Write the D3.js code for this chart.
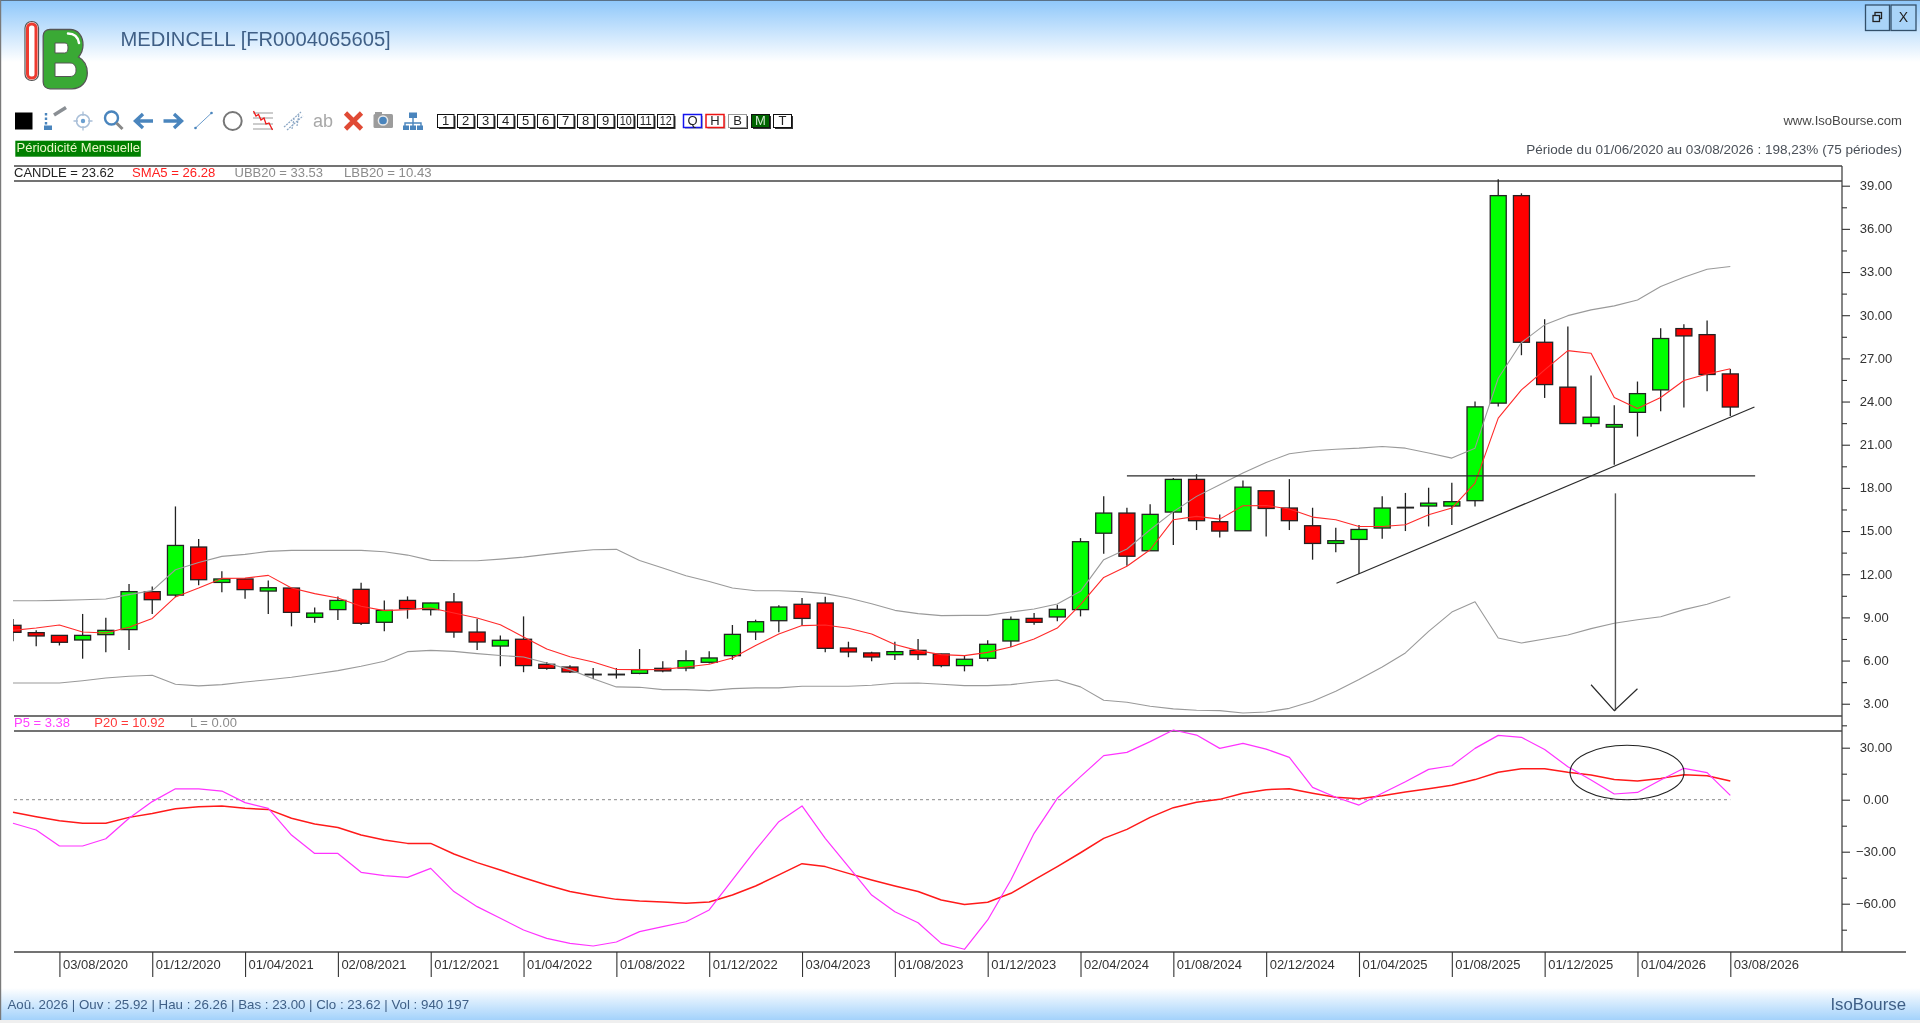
<!DOCTYPE html>
<html>
<head>
<meta charset="utf-8">
<title>MEDINCELL</title>
<script src="https://cdn.jsdelivr.net/npm/d3@7"></script>
<style>
    html, body { margin: 0; padding: 0; background: #fff; overflow: hidden; }
    svg { display: block; filter: blur(0.4px); }
    text { font-family: "Liberation Sans", Arial, sans-serif; }
</style>
</head>
<body>
<div id="chart"></div>
<script>
// monthly candles, 01/06/2020 -> 03/08/2026
const opens = [8.45,7.94,7.75,7.43,7.80,8.15,10.79,10.55,13.89,11.43,11.67,10.83,11.04,9.00,9.54,10.95,8.66,10.18,9.54,10.07,
    7.98,7.01,7.48,5.74,5.55,5.05,5.05,5.11,5.46,5.48,5.88,6.34,7.99,8.77,9.91,10.00,6.87,6.53,6.41,6.71,
    6.46,5.65,6.16,7.36,8.93,9.03,9.54,14.85,16.25,13.63,16.32,18.59,15.65,15.02,17.80,16.60,15.37,14.14,14.42,15.21,
    16.65,16.74,16.74,17.11,23.89,38.31,28.12,25.00,22.47,22.22,23.25,24.81,29.07,28.65,25.92];
const highs = [8.89,8.10,7.75,9.24,8.98,11.32,11.15,16.71,14.44,12.20,11.73,11.57,11.04,9.68,10.46,11.41,10.18,10.46,10.02,10.69,
    8.91,7.75,9.07,5.90,5.67,5.48,5.48,6.80,5.95,6.71,6.64,8.47,8.84,9.84,10.35,10.44,7.31,6.62,7.31,7.50,
    6.48,6.32,7.41,9.07,9.30,9.88,14.51,17.41,16.62,16.87,18.68,18.95,16.15,18.52,17.80,18.61,16.62,15.23,15.42,17.41,
    17.65,18.01,18.36,24.00,39.44,38.47,29.72,29.21,25.81,23.75,25.39,29.09,29.37,29.63,26.26];
const lows = [7.34,6.99,7.05,6.13,6.57,6.74,9.24,10.41,11.23,10.74,10.30,9.24,8.38,8.63,8.82,8.47,8.03,8.91,9.14,7.59,
    6.74,5.60,5.19,5.37,5.14,4.72,4.75,5.05,5.18,5.25,5.79,6.05,7.43,7.96,8.42,6.57,6.23,5.95,6.04,6.04,
    5.53,5.25,5.95,6.94,8.49,8.73,9.07,13.43,12.59,13.63,14.03,15.07,14.55,15.02,14.63,15.07,13.01,13.52,12.02,14.47,
    15.00,15.32,15.42,16.71,23.65,27.22,24.25,22.47,22.25,19.60,21.57,23.33,23.59,24.72,23.00];
const closes = [7.96,7.71,7.27,7.75,8.10,10.79,10.23,14.00,11.62,11.67,10.93,11.06,9.35,9.30,10.18,8.59,9.49,9.60,10.00,7.98,
    7.29,7.41,5.65,5.46,5.21,5.05,5.05,5.37,5.28,5.99,6.18,7.82,8.70,9.72,8.93,6.85,6.60,6.25,6.62,6.41,
    5.65,6.09,7.13,8.86,8.66,9.56,14.26,16.25,13.25,16.16,18.59,15.72,15.00,18.05,16.57,15.72,14.14,14.33,15.11,16.60,
    16.65,16.94,17.04,23.63,38.31,28.12,25.18,22.47,22.91,22.40,24.55,28.38,28.56,25.88,23.62];

const sma5 = [8.10,8.26,8.47,7.98,7.92,8.31,8.93,10.42,11.04,11.71,11.73,11.92,11.04,10.65,10.35,9.77,9.47,9.54,9.65,9.30,
    8.96,8.49,7.64,6.80,6.27,5.90,5.39,5.37,5.39,5.55,5.74,6.18,7.04,7.85,8.43,8.47,8.24,7.85,7.11,6.69,
    6.41,6.34,6.57,6.94,7.50,8.26,9.88,11.78,12.55,13.70,15.79,16.02,15.83,16.76,16.78,16.53,15.97,15.79,15.32,15.32,
    15.44,16.13,16.60,18.33,22.85,24.81,26.20,27.54,27.36,24.28,23.52,24.28,25.46,25.92,26.28];
const ubb20 = [10.16,10.16,10.18,10.23,10.28,10.58,10.86,12.31,12.82,13.24,13.38,13.59,13.66,13.66,13.66,13.66,13.56,13.33,12.96,12.94,
    12.94,13.05,13.19,13.38,13.55,13.70,13.73,12.96,12.43,11.90,11.50,11.04,10.85,10.85,10.79,10.65,10.35,9.95,9.49,9.26,
    9.12,9.14,9.14,9.37,9.58,9.93,10.81,13.01,13.75,15.09,16.35,17.41,18.22,19.03,19.77,20.37,20.58,20.69,20.76,20.88,
    20.76,20.42,20.07,20.76,25.62,28.10,29.33,29.97,30.37,30.65,31.06,31.99,32.64,33.19,33.38];
const lbb20 = [4.44,4.44,4.44,4.60,4.79,4.91,4.98,4.35,4.24,4.33,4.51,4.67,4.84,5.07,5.30,5.60,5.95,6.62,6.71,6.64,
    6.48,6.35,6.25,5.83,5.37,4.74,4.17,4.14,3.98,3.98,3.91,4.05,4.10,4.10,4.21,4.21,4.21,4.28,4.42,4.44,
    4.35,4.26,4.26,4.33,4.51,4.65,4.17,3.24,3.10,2.82,2.64,2.55,2.52,2.36,2.43,2.68,3.17,3.86,4.68,5.55,
    6.53,8.03,9.37,10.09,7.57,7.22,7.50,7.78,8.22,8.59,8.84,9.05,9.54,9.91,10.43];

// oscillator panel
const p5 = [-13.6,-17.5,-26.7,-26.7,-22.5,-10.7,-1.1,6.3,6.3,5.0,-1.7,-5.0,-20.4,-31.0,-31.0,-41.9,-43.8,-44.8,-39.6,-53.0,
    -61.7,-68.4,-75.2,-80.0,-82.9,-84.4,-82.1,-76.1,-73.2,-70.4,-63.6,-46.3,-29.0,-12.7,-3.6,-22.3,-38.6,-55.0,-64.6,-71.0,
    -82.9,-86.3,-69.4,-46.3,-19.4,0.8,13.3,25.4,27.3,33.5,40.2,37.3,29.6,32.5,29.2,24.4,7.1,1.4,-3.1,3.7,
    10.4,17.5,19.6,29.6,37.1,36.0,29.0,19.0,11.4,3.3,4.2,11.4,18.1,15.6,2.5];
const p20 = [-7.3,-9.8,-12.1,-13.6,-13.6,-10.2,-7.9,-5.2,-4.0,-3.6,-5.0,-5.6,-10.7,-14.0,-16.0,-20.4,-23.2,-25.2,-25.2,-31.3,
    -36.3,-40.6,-45.0,-49.2,-53.0,-55.4,-57.5,-58.4,-59.0,-59.8,-59.0,-55.0,-49.8,-43.4,-36.9,-38.6,-42.5,-46.3,-49.8,-53.0,
    -57.9,-60.4,-59.2,-54.0,-46.3,-38.6,-30.6,-22.3,-17.1,-10.2,-4.6,-1.5,0.2,3.7,5.8,6.3,3.7,1.4,0.6,2.3,
    4.4,6.3,8.3,11.6,15.8,17.9,17.9,15.8,14.2,11.7,10.8,12.3,14.4,13.8,10.8];

const dateIndex = [2,6,10,14,18,22,26,30,34,38,42,46,50,54,58,62,66,70,74];
const dateLabels = ["03/08/2020","01/12/2020","01/04/2021","02/08/2021","01/12/2021","01/04/2022","01/08/2022","01/12/2022","03/04/2023","01/08/2023",
    "01/12/2023","02/04/2024","01/08/2024","02/12/2024","01/04/2025","01/08/2025","01/12/2025","01/04/2026","03/08/2026"];
const priceTicks = [3,6,9,12,15,18,21,24,27,30,33,36,39];
const priceMinor = [1.5,4.5,7.5,10.5,13.5,16.5,19.5,22.5,25.5,28.5,31.5,34.5,37.5];
const oscTicks = [30,0,-30,-60];
const oscMinor = [15,-15,-45,-75];

// hand drawn annotations, [period, price]
const resistance = [[48,18.83],[75.07,18.83]];
const trendline = [[57.03,11.37],[75.04,23.62]];
const arrowShaft = [[69.05,17.62],[69.05,2.52]];
const arrowHead = [[68,4.32],[69,2.52],[70,4.04]];
const ellipseCenter = [69.55,15.7];

const buttons = ["1","2","3","4","5","6","7","8","9","10","11","12"];
const periodButtons = ["Q","H","B","M","T"];

const width = 1920, height = 1023;
const panel = {left: 14, right: 1842, top: 166, legendBottom: 181, priceBottom: 716, oscTop: 731, bottom: 952};

const svg = d3.select("#chart").append("svg")
    .attr("width", width)
    .attr("height", height);

const defs = svg.append("defs");

function gradient(id, stops) {
    let g = defs.append("linearGradient").attr("id", id).attr("x1", 0).attr("x2", 0).attr("y1", 0).attr("y2", 1);
    stops.forEach(s => g.append("stop").attr("offset", s[0]).attr("stop-color", s[1]));
}
gradient("headGrad", [[0, "#8ec7fa"], [1, "#ffffff"]]);
gradient("footGrad", [[0, "#ffffff"], [1, "#a3d2fb"]]);

defs.append("clipPath").attr("id", "candleClip")
    .append("rect").attr("x", 13).attr("y", 0).attr("width", 1829).attr("height", height);

// scales
const x = d3.scaleLinear().domain([0, 74]).range([13, 1730.3]);
const y = d3.scaleLinear().domain([0, 39]).range([746.9, 185.7]);
const yOsc = d3.scaleLinear().domain([0, 30]).range([799.7, 747.7]);

/* window chrome */
svg.append("rect").attr("width", width).attr("height", height).attr("fill", "#fff");
svg.append("rect").attr("width", width).attr("height", 62).attr("fill", "url(#headGrad)");
svg.append("rect").attr("y", 988).attr("width", width).attr("height", 32).attr("fill", "url(#footGrad)");
svg.append("rect").attr("y", 1020).attr("width", width).attr("height", 3).attr("fill", "#efefef");
svg.append("rect").attr("width", width).attr("height", 1).attr("fill", "#5a7186");
svg.append("rect").attr("width", 1.2).attr("height", 1020).attr("fill", "#7a7a7a");

function label(txt, px, py, size, color, anchor) {
    return svg.append("text").attr("x", px).attr("y", py)
        .attr("font-size", size).attr("fill", color)
        .attr("text-anchor", anchor || "start")
        .attr("dominant-baseline", "middle")
        .text(txt);
}

label("MEDINCELL [FR0004065605]", 120.5, 41, 20.15, "#3f5f86");
label("www.IsoBourse.com", 1902, 122, 13.1, "#4a4a4a", "end");
label("Période du 01/06/2020 au 03/08/2026 : 198,23% (75 périodes)", 1902, 150, 13.55, "#4a5058", "end");
label("Aoû. 2026 | Ouv : 25.92 | Hau : 26.26 | Bas : 23.00 | Clo : 23.62 | Vol : 940 197", 7.5, 1005, 13.3, "#3f5f86");
label("IsoBourse", 1906, 1006, 16.8, "#3f5f86", "end");

// restore / close buttons
const winBtn = svg.append("g").attr("fill", "#a9d4f8").attr("stroke", "#33506a");
winBtn.append("rect").attr("x", 1865.5).attr("y", 5).attr("width", 24).attr("height", 25.5).attr("stroke-width", 1.3);
winBtn.append("rect").attr("x", 1891).attr("y", 5).attr("width", 25).attr("height", 25.5).attr("stroke-width", 1.3);
winBtn.append("rect").attr("x", 1875).attr("y", 12.5).attr("width", 6.5).attr("height", 6).attr("fill", "none").attr("stroke", "#222").attr("stroke-width", 1.3);
winBtn.append("rect").attr("x", 1873).attr("y", 15.5).attr("width", 6.5).attr("height", 6).attr("fill", "#a9d4f8").attr("stroke", "#222").attr("stroke-width", 1.3);
label("X", 1903.5, 18, 14, "#222", "middle");

/* logo */
const logo = svg.append("g");
logo.append("rect").attr("x", 25).attr("y", 21.5).attr("width", 13.5).attr("height", 59).attr("rx", 6.5)
    .attr("fill", "#fff").attr("stroke", "#555").attr("stroke-width", 1.2);
logo.append("rect").attr("x", 27.5).attr("y", 24).attr("width", 8.5).attr("height", 54).attr("rx", 4)
    .attr("fill", "#fff").attr("stroke", "#ee3b30").attr("stroke-width", 3);
logo.append("path")
    .attr("d", "M50 29.5 H70 C78 29.5 83 36 83 45 C83 50 81 54 78.5 57 C84 60 87.3 66 87.3 73 C87.3 82 81 88.8 72 88.8 H50 C46 88.8 43.2 86 43.2 82 V36 C43.2 32 46 29.5 50 29.5 Z")
    .attr("fill", "#3aa935").attr("stroke", "#555").attr("stroke-width", 1.3);
logo.append("path").attr("d", "M55 43 H65 C67.5 43 68 45.5 68 48 C68 51 67 53 64.5 53 H55 Z").attr("fill", "#fff").attr("stroke", "#555").attr("stroke-width", 1);
logo.append("path").attr("d", "M55 63 H70 C74 63 76 66 76 70 C76 74 74 76.5 70 76.5 H55 Z").attr("fill", "#fff").attr("stroke", "#555").attr("stroke-width", 1);
logo.append("path").attr("d", "M68 33.5 C74 33.5 78 37 79 43").attr("fill", "none").attr("stroke", "#fff").attr("stroke-width", 2.5).attr("stroke-linecap", "round");

/* toolbar icons */
const blue = "#4a85bd";
const tb = svg.append("g");
tb.append("rect").attr("x", 15).attr("y", 112.5).attr("width", 17.5).attr("height", 17).attr("fill", "#000");
// brush
tb.append("line").attr("x1", 46).attr("x2", 46).attr("y1", 113).attr("y2", 125).attr("stroke", blue).attr("stroke-width", 2.4).attr("stroke-dasharray", "2.5,2");
tb.append("rect").attr("x", 44).attr("y", 125.5).attr("width", 8).attr("height", 4.5).attr("fill", blue);
tb.append("line").attr("x1", 54).attr("y1", 115).attr("x2", 66).attr("y2", 107.5).attr("stroke", "#8a8f94").attr("stroke-width", 3.5);
// target
tb.append("circle").attr("cx", 83).attr("cy", 121).attr("r", 6.5).attr("fill", "none").attr("stroke", "#a9bfd8").attr("stroke-width", 1.5);
tb.append("circle").attr("cx", 83).attr("cy", 121).attr("r", 2.2).attr("fill", "#6a9fd0");
tb.append("path").attr("d", "M73.5 121H78M88 121H92.5M83 111.5V116M83 126V130.5").attr("stroke", "#a9bfd8").attr("stroke-width", 1.3);
// magnifier
tb.append("circle").attr("cx", 111.5).attr("cy", 118).attr("r", 6.5).attr("fill", "none").attr("stroke", blue).attr("stroke-width", 2.4);
tb.append("line").attr("x1", 116.5).attr("y1", 123).attr("x2", 122.5).attr("y2", 129).attr("stroke", "#888").attr("stroke-width", 3);
// arrows
tb.append("path").attr("d", "M153 121H136M143 114L135.5 121L143 128").attr("fill", "none").attr("stroke", blue).attr("stroke-width", 3.4);
tb.append("path").attr("d", "M163.5 121H181M174 114L181.5 121L174 128").attr("fill", "none").attr("stroke", blue).attr("stroke-width", 3.4);
// line tool
tb.append("line").attr("x1", 195.5).attr("y1", 128).attr("x2", 211.5).attr("y2", 113).attr("stroke", "#6b9ccc").attr("stroke-width", 1);
tb.append("circle").attr("cx", 195.5).attr("cy", 128).attr("r", 1.3).attr("fill", blue);
tb.append("circle").attr("cx", 211.5).attr("cy", 113).attr("r", 1.3).attr("fill", blue);
// circle tool
tb.append("circle").attr("cx", 232.7).attr("cy", 121).attr("r", 9).attr("fill", "none").attr("stroke", "#777").attr("stroke-width", 2);
// channel icon
tb.append("path").attr("d", "M253 113H273M253 118H273M253 124H273M253 129H273").attr("stroke", "#999").attr("stroke-width", 1);
tb.append("path").attr("d", "M253.5 111L256 116L258.5 114.5L261 120L264 118L266 124L269 123L272.5 130").attr("fill", "none").attr("stroke", "#f01818").attr("stroke-width", 1.3);
// fibo icon
tb.append("path").attr("d", "M284 127L301 112M287 130L303 116M292 129L294 119M297 126L299 114").attr("fill", "none").attr("stroke", "#8aa6c4").attr("stroke-width", 1.2).attr("stroke-dasharray", "2,1");
label("ab", 323, 122, 18, "#a8a8a8", "middle");
// delete
tb.append("path").attr("d", "M345.5 113L361.5 129M361.5 113L345.5 129").attr("stroke", "#e04a35").attr("stroke-width", 4.6);
// camera
tb.append("rect").attr("x", 373.5).attr("y", 114).attr("width", 19.5).attr("height", 14).attr("rx", 1.5).attr("fill", "#9c9c9c");
tb.append("rect").attr("x", 375).attr("y", 112).attr("width", 7).attr("height", 3).attr("fill", "#9c9c9c");
tb.append("circle").attr("cx", 383).attr("cy", 120.5).attr("r", 4.6).attr("fill", blue).attr("stroke", "#e8e8e8").attr("stroke-width", 1.5);
// hierarchy
tb.append("rect").attr("x", 409).attr("y", 112.5).attr("width", 8).attr("height", 5.5).attr("fill", blue);
tb.append("path").attr("d", "M413 118V123M405 126V123H421V126M413 123V126").attr("fill", "none").attr("stroke", blue).attr("stroke-width", 1.4);
[403, 410, 417].forEach(bx => tb.append("rect").attr("x", bx).attr("y", 125.5).attr("width", 6).attr("height", 4.5).attr("fill", blue));

// number buttons
const numBtn = svg.append("g").selectAll("g").data(buttons).enter().append("g")
    .attr("transform", (d, i) => `translate(${437.5 + i * 20},114.5)`);
numBtn.append("rect").attr("x", 1.5).attr("y", 1.5).attr("width", 16.5).attr("height", 13).attr("fill", "#333");
numBtn.append("rect").attr("width", 16.5).attr("height", 13).attr("fill", "#fff").attr("stroke", "#111").attr("stroke-width", 1);
numBtn.append("text").attr("x", 8.2).attr("y", 7).attr("text-anchor", "middle").attr("dominant-baseline", "middle")
    .attr("font-size", 13).attr("textLength", d => d.length > 1 ? 12 : null).attr("lengthAdjust", "spacingAndGlyphs")
    .attr("fill", "#222").text(d => d);

const periodX = [683.5, 706, 728.5, 751.5, 773.5];
const periodStroke = {Q: "#1414ee", H: "#ee1414", B: "#999", M: "#111", T: "#111"};
const perBtn = svg.append("g").selectAll("g").data(periodButtons).enter().append("g")
    .attr("transform", (d, i) => `translate(${periodX[i]},114.5)`);
perBtn.append("rect").attr("x", 1.5).attr("y", 1.5).attr("width", 18).attr("height", 13).attr("fill", d => d === "Q" || d === "H" ? "#bbb" : "#333");
perBtn.append("rect").attr("width", 18).attr("height", 13).attr("fill", d => d === "M" ? "#006400" : "#fff")
    .attr("stroke", d => periodStroke[d]).attr("stroke-width", d => d === "Q" || d === "H" ? 1.5 : 1);
perBtn.append("text").attr("x", 9).attr("y", 7).attr("text-anchor", "middle").attr("dominant-baseline", "middle")
    .attr("font-size", 13).attr("fill", d => d === "M" ? "#cfe8cf" : "#222").text(d => d);

// periodicity flag
svg.append("rect").attr("x", 15.3).attr("y", 140.7).attr("width", 125.5).attr("height", 16).attr("fill", "#008000");
label("Périodicité Mensuelle", 16.5, 149, 13, "#eaf7c8");

/* panel frame */
const frame = svg.append("g").attr("stroke", "#444").attr("stroke-width", 1.3);
[panel.top, panel.legendBottom, panel.priceBottom, panel.oscTop].forEach(py => {
    frame.append("line").attr("x1", panel.left).attr("x2", panel.right).attr("y1", py).attr("y2", py);
});
frame.append("line").attr("x1", panel.left).attr("x2", 1906).attr("y1", panel.bottom).attr("y2", panel.bottom);
frame.append("line").attr("x1", panel.right).attr("x2", panel.right).attr("y1", panel.top).attr("y2", panel.bottom);

// legends
label("CANDLE = 23.62", 14, 174, 13, "#222");
label("SMA5 = 26.28", 132, 174, 13.1, "#ff2020");
label("UBB20 = 33.53", 234.5, 174, 13, "#8c8c8c");
label("LBB20 = 10.43", 344, 174, 13.2, "#8c8c8c");
label("P5 = 3.38", 14, 723.7, 13, "#ff40ff");
label("P20 = 10.92", 94.3, 723.7, 13, "#ff3a3a");
label("L = 0.00", 190, 723.7, 13, "#8c8c8c");

/* axes */
function rightAxis(scale, major, minor, fmt) {
    let gMajor = svg.append("g").attr("transform", `translate(${panel.right},0)`)
        .call(d3.axisRight(scale).tickValues(major).tickSize(8).tickPadding(9).tickFormat(fmt));
    let gMinor = svg.append("g").attr("transform", `translate(${panel.right},0)`)
        .call(d3.axisRight(scale).tickValues(minor).tickSize(5).tickFormat(""));
    [gMajor, gMinor].forEach(g => {
        g.select(".domain").remove();
        g.selectAll("line").attr("stroke", "#333").attr("stroke-width", 1.1);
    });
    gMajor.selectAll("text")
        .attr("x", 34).attr("text-anchor", "middle")
        .attr("dy", "0.3em")
        .attr("font-family", '"Liberation Sans", Arial, sans-serif')
        .attr("font-size", 13).attr("fill", "#333");
}
rightAxis(y, priceTicks, priceMinor, d3.format(".2f"));
rightAxis(yOsc, oscTicks, oscMinor, d3.format(".2f"));

const xAxis = svg.append("g").attr("transform", `translate(0,${panel.bottom})`)
    .call(d3.axisBottom(x).tickValues(dateIndex).tickSize(25).tickFormat((d, i) => dateLabels[i]));
xAxis.select(".domain").remove();
xAxis.selectAll("line").attr("stroke", "#333").attr("stroke-width", 1.1);
xAxis.selectAll("text")
    .attr("y", 8).attr("x", 3).attr("dy", "0.71em")
    .attr("text-anchor", "start")
    .attr("font-family", '"Liberation Sans", Arial, sans-serif')
    .attr("font-size", 13).attr("fill", "#333");

/* candles */
const candles = opens.map((o, i) => ({i: i, open: o, high: highs[i], low: lows[i], close: closes[i]}));
const bodyW = 16;

const candleG = svg.append("g").attr("clip-path", "url(#candleClip)");
const candle = candleG.selectAll("g").data(candles).enter().append("g");
candle.append("line")
    .attr("x1", d => x(d.i)).attr("x2", d => x(d.i))
    .attr("y1", d => y(d.high)).attr("y2", d => y(d.low))
    .attr("stroke", "#222").attr("stroke-width", 1.3);
candle.append("rect")
    .attr("x", d => x(d.i) - bodyW / 2)
    .attr("width", bodyW)
    .attr("y", d => y(Math.max(d.open, d.close)))
    .attr("height", d => Math.max(0.6, Math.abs(y(d.open) - y(d.close))))
    .attr("fill", d => d.close > d.open ? "#00ff00" : d.close < d.open ? "#ff0000" : "#000")
    .attr("stroke", "#222").attr("stroke-width", 1.3);

/* overlays */
function drawLine(values, scale, color, w) {
    let gen = d3.line().x((d, i) => x(i)).y(d => scale(d));
    svg.append("path").datum(values).attr("d", gen)
        .attr("fill", "none").attr("stroke", color).attr("stroke-width", w)
        .attr("stroke-linejoin", "round");
}
drawLine(ubb20, y, "#9a9a9a", 1.1);
drawLine(lbb20, y, "#9a9a9a", 1.1);
drawLine(sma5, y, "#ff2a2a", 1.1);

// zero line
svg.append("line").attr("x1", panel.left).attr("x2", x(74))
    .attr("y1", yOsc(0)).attr("y2", yOsc(0))
    .attr("stroke", "#8a8a8a").attr("stroke-width", 1).attr("stroke-dasharray", "3,3");
drawLine(p20, yOsc, "#ff1a1a", 1.5);
drawLine(p5, yOsc, "#ff33ff", 1.2);

/* hand drawn annotations */
const seg = d3.line().x(d => x(d[0])).y(d => y(d[1]));
[resistance, trendline, arrowShaft, arrowHead].forEach((pts, k) => {
    svg.append("path").attr("d", seg(pts))
        .attr("fill", "none")
        .attr("stroke", k === 2 ? "#555" : "#2a2a2a")
        .attr("stroke-width", k === 2 ? 1.4 : 1.2);
});
svg.append("ellipse")
    .attr("cx", x(ellipseCenter[0])).attr("cy", yOsc(ellipseCenter[1]))
    .attr("rx", 57).attr("ry", 27.2)
    .attr("fill", "none").attr("stroke", "#222").attr("stroke-width", 1.1);
</script>
</body>
</html>
